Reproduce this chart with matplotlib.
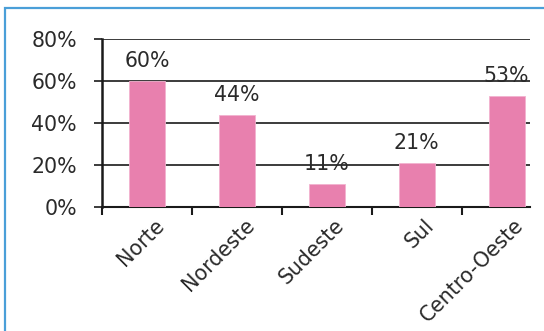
import matplotlib
matplotlib.use("Agg")
import matplotlib.pyplot as plt
from matplotlib.patches import Rectangle
import numpy as np

categories = ["Norte", "Nordeste", "Sudeste", "Sul", "Centro-Oeste"]
values = [60, 44, 11, 21, 53]
yticks = [0, 20, 40, 60, 80]
ytick_labels = ["0%", "20%", "40%", "60%", "80%"]

plt.rcParams['font.family'] = ['DejaVu Sans']
fs = 14.8
tc = '#2a2a2a'

fig = plt.figure(figsize=(5.44, 3.31), dpi=100)
fig.patch.set_facecolor('white')
ax = fig.add_axes([102/544, (331-207)/331, (530-102)/544, (207-39)/331])

x = np.arange(len(categories))
ax.bar(x, values, width=0.4, color='#e880ae', edgecolor='#f2b3cf', linewidth=0.6, zorder=3)

for xi, v in zip(x, values):
    ax.annotate(f"{v}%", (xi, v), xytext=(0, 7), textcoords='offset points',
                ha='center', va='bottom', fontsize=fs, color=tc)

ax.set_ylim(0, 80)
ax.set_xlim(-0.5, 4.26)
ax.set_yticks(yticks)
ax.set_yticklabels(ytick_labels, fontsize=fs, color=tc)
ax.yaxis.grid(True, color='#1a1a1a', linewidth=1.2, zorder=1)
ax.set_axisbelow(True)
ax.tick_params(axis='y', length=6, width=1.2, color='#1a1a1a', pad=12)

# x: ticks at category boundaries, labels at centres
ax.set_xticks(np.arange(len(categories)) - 0.5)
ax.set_xticklabels([])
ax.tick_params(axis='x', which='major', length=6, width=1.5, color='#1a1a1a', direction='out')
ax.set_xticks(x + 0.08, minor=True)
ax.set_xticklabels(categories, minor=True, rotation=45, ha='right', va='top',
                   rotation_mode='anchor', fontsize=fs, color=tc)
ax.tick_params(axis='x', which='minor', length=0, pad=6)

for s in ['top', 'right']:
    ax.spines[s].set_visible(False)
ax.spines['left'].set_color('#1a1a1a')
ax.spines['left'].set_linewidth(1.8)
ax.spines['bottom'].set_color('#1a1a1a')
ax.spines['bottom'].set_linewidth(1.5)

# outer border (only top and left visible in the reference)
fig.patches.append(Rectangle((5/544, -0.05), 1.1, (331-8)/331 + 0.05,
                             transform=fig.transFigure, fill=False,
                             edgecolor='#4a9fd8', linewidth=1.6))

fig.savefig("out.png", dpi=100, facecolor='white')
